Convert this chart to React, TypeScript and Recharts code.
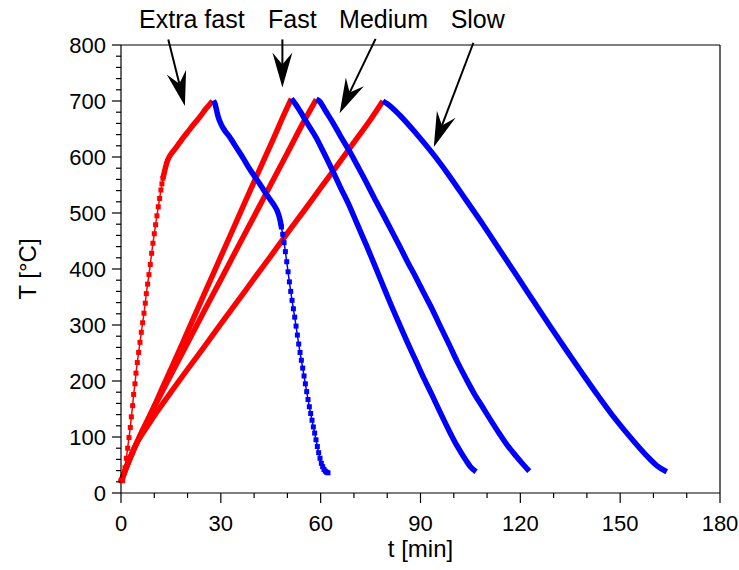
import { LineChart, Line, XAxis, YAxis, ReferenceLine, ReferenceDot } from 'recharts'

// [t (min), T (°C)]
const extraFastRamp = [
  [0, 22], [0.5, 22], [1.2, 45], [1.6, 62], [2, 80], [2.4, 99], [2.8, 117], [3.1, 136], [3.5, 156],
  [3.8, 176], [4.2, 195], [4.5, 214], [4.9, 233], [5.3, 251], [5.7, 269], [6.1, 287], [6.5, 304],
  [6.9, 321], [7.3, 339], [7.6, 356], [8, 373], [8.4, 390], [8.8, 408], [9.2, 428], [9.6, 446],
  [10, 463], [10.4, 479], [10.8, 495], [11.2, 511], [11.6, 526], [12, 541], [12.3, 552], [12.6, 562],
]
const extraFastSoak = [
  [12.6, 562], [13.2, 577], [13.7, 589], [14.5, 600], [15.5, 609], [16.7, 618], [18, 629], [19.7, 642],
  [21, 652], [22.5, 663], [24, 674], [25.5, 686], [26.5, 693], [27.5, 700],
]
const extraFastCoolTop = [
  [27.8, 701], [28.3, 694], [28.7, 684], [29.2, 672], [30.2, 657], [31.2, 647], [32.5, 637], [33.7, 626],
  [35.2, 612], [36.7, 598], [38.7, 578], [40.2, 565], [41.7, 552], [43.2, 538], [44.7, 525], [46, 514],
  [47, 503], [47.7, 490], [48.2, 475],
]
const extraFastQuench = [
  [48.2, 475], [48.6, 462], [49, 447], [49.4, 431], [49.8, 413], [50.2, 395], [50.6, 377], [51, 360],
  [51.4, 344], [51.8, 329], [52.2, 314], [52.6, 298], [53, 282], [53.4, 266], [53.8, 251], [54.2, 237],
  [54.6, 223], [55, 209], [55.4, 195], [55.8, 181], [56.2, 167], [56.6, 154], [57, 142], [57.4, 130],
  [57.8, 118], [58.2, 107], [58.6, 95], [59, 83], [59.4, 72], [59.8, 62], [60.2, 53], [60.6, 47],
  [61, 42], [61.4, 39], [61.8, 37], [62.2, 36],
]
const fastHeat = [
  [0, 20], [1, 36], [2, 52], [3, 66], [4, 80], [5, 93], [6, 106], [8, 130], [10, 155], [12, 182],
  [15, 221], [20, 288], [25, 355], [30, 422], [35, 489], [40, 556], [45, 622], [50, 689], [51.2, 704],
]
const fastCool = [
  [51.2, 704], [52.5, 694], [53.7, 683], [56, 660], [58.7, 634], [61, 607], [63.7, 574], [66, 545],
  [68.7, 512], [71, 480], [73.7, 443], [76, 410], [78.7, 371], [81, 338], [83.7, 301], [86, 270],
  [88.7, 235], [91, 205], [93.7, 172], [96, 143], [98.7, 110], [101, 84], [103.7, 58], [105, 47], [106.7, 38],
]
const mediumHeat = [
  [0, 20], [1, 36], [2, 52], [3, 66], [4, 80], [5, 93], [6, 106], [8, 130], [10, 154], [12, 177],
  [15, 211], [20, 268], [25, 325], [30, 381], [35, 438], [40, 494], [45, 551], [50, 607], [55, 664], [58.7, 703],
]
const mediumCool = [
  [58.7, 703], [59.7, 699], [61.5, 682], [63.7, 661], [66, 637], [68.7, 610], [71, 585], [73.7, 555],
  [76, 528], [78.7, 498], [81, 472], [83.7, 441], [86, 414], [88.7, 384], [91, 357], [93.7, 326],
  [96, 297], [98.7, 264], [101, 235], [103.7, 204], [106, 179], [108.7, 153], [111, 131], [113.7, 106],
  [116, 86], [118.7, 66], [121, 50], [122.7, 39],
]
const slowHeat = [
  [0, 20], [1, 36], [2, 52], [3, 66], [4, 80], [5, 92], [6, 102], [8, 120], [10, 138], [12, 155],
  [15, 180], [20, 221], [25, 261], [30, 302], [35, 342], [40, 383], [45, 423], [50, 464], [55, 504],
  [60, 545], [65, 585], [70, 626], [75, 667], [78.7, 700],
]
const slowCool = [
  [78.7, 700], [80, 695], [83.7, 675], [88.7, 642], [93.7, 606], [98.7, 566], [103.7, 523], [108.7, 480],
  [113.7, 435], [118.7, 390], [123.7, 345], [128.7, 300], [133.7, 256], [138.7, 213], [143.7, 171],
  [148.7, 131], [153.7, 95], [158.7, 62], [161, 49], [164, 38],
]

const xTicks = [0, 10, 20, 30, 40, 50, 60, 70, 80, 90, 100, 110, 120, 130, 140, 150, 160, 170, 180]
const xMajor = [0, 30, 60, 90, 120, 150, 180]
const yTicks = [
  0, 20, 40, 60, 80, 100, 120, 140, 160, 180, 200, 220, 240, 260, 280, 300, 320, 340, 360, 380, 400,
  420, 440, 460, 480, 500, 520, 540, 560, 580, 600, 620, 640, 660, 680, 700, 720, 740, 760, 780, 800,
]
const yMajor = [0, 100, 200, 300, 400, 500, 600, 700, 800]

// annotations: label, label position, arrow tail, arrow tip (data units)
const noteLabels = ['Extra fast', 'Fast', 'Medium', 'Slow']
const noteLabelAt = [[21.3, 830], [51.5, 830], [78.9, 830], [107.2, 830]]
const noteTail = [[14.2, 810], [48.5, 810], [76.5, 811], [105.9, 804]]
const noteTip = [[19.2, 691], [48.5, 724], [65.7, 678], [94, 618]]

const RED = '#ff0000'
const BLUE = '#0000ff'
const FONT = "'Liberation Sans', Arial, sans-serif"

const toPts = (rows: number[][]) => rows.map(([t, T]) => ({ t, T }))

const squareDot = (color: string) => (p: any) => (
  <rect key={p.index} x={p.cx - 2.5} y={p.cy - 2.5} width={5} height={5} fill={color} />
)

function XTick({ x, y, payload }: any) {
  const major = xMajor.includes(payload.value)
  return (
    <g>
      <line x1={x} x2={x} y1={y} y2={y + (major ? 10 : 5)} stroke="#000" strokeWidth={1.2} />
      {major && (
        <text x={x} y={y + 38} textAnchor="middle" fontSize={22} fontFamily={FONT} fill="#000">
          {payload.value}
        </text>
      )}
    </g>
  )
}

function YTick({ x, y, payload }: any) {
  const major = yMajor.includes(payload.value)
  return (
    <g>
      <line x1={x} x2={x - (major ? 9 : 5)} y1={y} y2={y} stroke="#000" strokeWidth={1.2} />
      {major && (
        <text x={x - 15} y={y} dy="0.35em" textAnchor="end" fontSize={22} fontFamily={FONT} fill="#000">
          {payload.value}
        </text>
      )}
    </g>
  )
}

function Arrow({ x1, y1, x2, y2 }: any) {
  const len = Math.hypot(x2 - x1, y2 - y1)
  const ux = (x2 - x1) / len
  const uy = (y2 - y1) / len
  const L = 35
  const W = 10
  const N = 23
  const bx = x2 - ux * L
  const by = y2 - uy * L
  const nx = x2 - ux * N
  const ny = y2 - uy * N
  const d = `M${x2},${y2} L${bx - uy * W},${by + ux * W} L${nx},${ny} L${bx + uy * W},${by - ux * W} Z`
  return (
    <g>
      <line x1={x1} y1={y1} x2={nx} y2={ny} stroke="#000" strokeWidth={2} />
      <path d={d} fill="#000" />
    </g>
  )
}

export default function App() {
  const thick = { strokeWidth: 5.5, strokeLinejoin: 'round' as const, dot: false, isAnimationActive: false }
  return (
    <div style={{ position: 'absolute', left: 0, top: 0, background: '#fff' }}>
      <LineChart width={739} height={570} margin={{ top: 45, right: 19, bottom: 0, left: 0 }}>
        <XAxis
          type="number"
          dataKey="t"
          domain={[0, 180]}
          ticks={xTicks}
          interval={0}
          height={77}
          tickSize={0}
          tickMargin={0}
          tickLine={false}
          tick={<XTick />}
          axisLine={{ stroke: '#000', strokeWidth: 1.2 }}
          label={{
            content: ({ viewBox }: any) => (
              <text x={viewBox.x + viewBox.width / 2} y={viewBox.y + 64} textAnchor="middle" fontSize={24} fontFamily={FONT} fill="#000">
                t [min]
              </text>
            ),
          }}
        />
        <YAxis
          type="number"
          dataKey="T"
          domain={[0, 800]}
          ticks={yTicks}
          interval={0}
          width={121}
          tickSize={0}
          tickMargin={0}
          tickLine={false}
          tick={<YTick />}
          axisLine={{ stroke: '#000', strokeWidth: 1.2 }}
          label={{
            content: ({ viewBox }: any) => {
              const cx = viewBox.x + 28
              const cy = viewBox.y + viewBox.height / 2
              return (
                <text x={cx} y={cy} dy="0.35em" textAnchor="middle" fontSize={24} fontFamily={FONT} fill="#000" transform={`rotate(-90 ${cx} ${cy})`}>
                  T [°C]
                </text>
              )
            },
          }}
        />
        <ReferenceLine y={800} stroke="#000" strokeWidth={1.2} />
        <ReferenceLine x={180} stroke="#000" strokeWidth={1.2} />

        <Line data={toPts(extraFastRamp)} dataKey="T" stroke={RED} strokeWidth={1.5} dot={squareDot(RED)} isAnimationActive={false} type="linear" />
        <Line data={toPts(extraFastSoak)} dataKey="T" stroke={RED} type="monotone" {...thick} />
        <Line data={toPts(fastHeat)} dataKey="T" stroke={RED} type="monotone" {...thick} />
        <Line data={toPts(mediumHeat)} dataKey="T" stroke={RED} type="monotone" {...thick} />
        <Line data={toPts(slowHeat)} dataKey="T" stroke={RED} type="monotone" {...thick} />

        <Line data={toPts(extraFastCoolTop)} dataKey="T" stroke={BLUE} type="monotone" {...thick} />
        <Line data={toPts(extraFastQuench)} dataKey="T" stroke={BLUE} strokeWidth={1.5} dot={squareDot(BLUE)} isAnimationActive={false} type="linear" />
        <Line data={toPts(fastCool)} dataKey="T" stroke={BLUE} type="monotone" {...thick} />
        <Line data={toPts(mediumCool)} dataKey="T" stroke={BLUE} type="monotone" {...thick} />
        <Line data={toPts(slowCool)} dataKey="T" stroke={BLUE} type="monotone" {...thick} />

        {noteLabels.map((label, i) => (
          <ReferenceLine
            key={`arrow-${label}`}
            segment={[
              { x: noteTail[i][0], y: noteTail[i][1] },
              { x: noteTip[i][0], y: noteTip[i][1] },
            ]}
            ifOverflow="visible"
            shape={(p: any) => <Arrow {...p} />}
          />
        ))}
        {noteLabels.map((label, i) => (
          <ReferenceDot
            key={`label-${label}`}
            x={noteLabelAt[i][0]}
            y={noteLabelAt[i][1]}
            r={0}
            ifOverflow="visible"
            shape={(p: any) => (
              <text x={p.cx} y={p.cy} textAnchor="middle" fontSize={25} fontFamily={FONT} fill="#000">
                {label}
              </text>
            )}
          />
        ))}
      </LineChart>
    </div>
  )
}
